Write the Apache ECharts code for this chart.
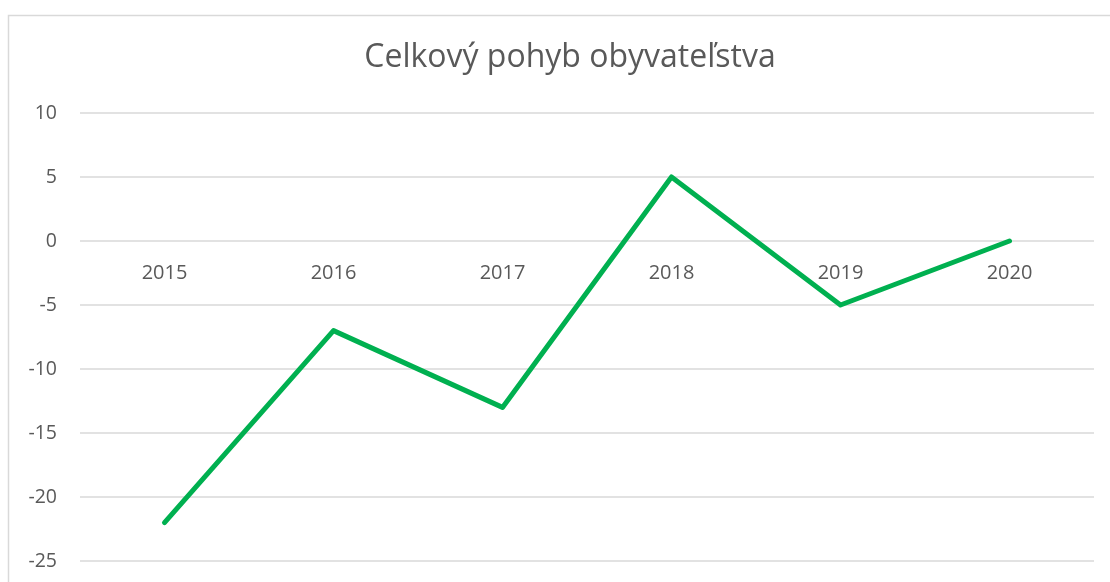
<!DOCTYPE html>
<html>
<head>
<meta charset="utf-8">
<script src="https://cdn.jsdelivr.net/npm/echarts@6/dist/echarts.min.js"></script>
<style>
  html, body { margin: 0; padding: 0; background: #fff; }
  #main { width: 1110px; height: 582px; }
</style>
</head>
<body>
<div id="main"></div>
<script>
const titleText = 'Celkový pohyb obyvateľstva'
const years = ['2015', '2016', '2017', '2018', '2019', '2020']
const movement = [-22, -7, -13, 5, -5, 0]

const textColor = '#595959'
const gridColor = '#d9d9d9'
const fontFamily = '"Open Sans", Lato, sans-serif'

// grid geometry: value axis runs -25..10 over 448px, so 0 sits 320px above the bottom
const gridTop = 113
const gridBottom = 21
const zeroOffset = -320

const chart = echarts.init(document.getElementById('main'), null, { renderer: 'canvas' })

chart.setOption({
  animation: false,
  backgroundColor: '#fff',
  title: {
    text: titleText,
    left: 565,
    textAlign: 'center',
    top: 37,
    textStyle: { color: textColor, fontFamily, fontSize: 32, fontWeight: 'normal' }
  },
  graphic: [{
    type: 'rect',
    shape: { x: 8.5, y: 15.5, width: 1300, height: 800 },
    style: { fill: 'none', stroke: gridColor, lineWidth: 1.5 },
    silent: true,
    z: -1
  }],
  grid: { left: 80, right: 16, top: gridTop, bottom: gridBottom, outerBoundsMode: 'none', containLabel: false },
  xAxis: {
    type: 'category',
    data: years,
    boundaryGap: true,
    position: 'bottom',
    offset: zeroOffset,
    axisLine: { show: false, onZero: false },
    axisTick: { show: false },
    axisLabel: { color: textColor, fontFamily, fontSize: 20, margin: 22 }
  },
  yAxis: {
    type: 'value',
    min: -25,
    max: 10,
    interval: 5,
    axisLine: { show: false },
    axisTick: { show: false },
    axisLabel: { color: textColor, fontFamily, fontSize: 19.5, margin: 23 },
    splitLine: { lineStyle: { color: gridColor, width: 1.5 } }
  },
  series: [{
    type: 'line',
    data: movement,
    showSymbol: false,
    symbol: 'none',
    lineStyle: { color: '#00b050', width: 5, cap: 'round', join: 'round' }
  }]
})
</script>
</body>
</html>
